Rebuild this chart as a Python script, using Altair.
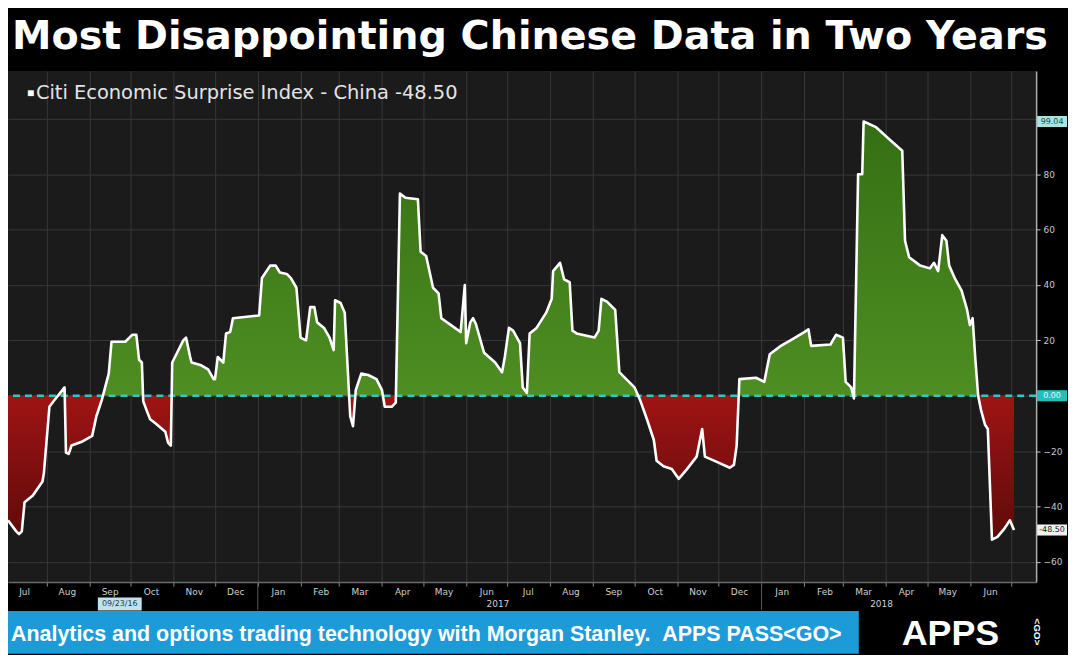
import altair as alt
import pandas as pd

# ---------------- data ----------------
dates = [
    "2016-07-04", "2016-07-10", "2016-07-12", "2016-07-14", "2016-07-16", "2016-07-22", "2016-07-29", "2016-07-30",
    "2016-08-03", "2016-08-06", "2016-08-14", "2016-08-15", "2016-08-17", "2016-08-19", "2016-08-27",
    "2016-09-03", "2016-09-06", "2016-09-10", "2016-09-15", "2016-09-17", "2016-09-27",
    "2016-10-02", "2016-10-05", "2016-10-07", "2016-10-09", "2016-10-10", "2016-10-13", "2016-10-15", "2016-10-19",
    "2016-10-26", "2016-10-28", "2016-10-30", "2016-10-31",
    "2016-11-02", "2016-11-08", "2016-11-10", "2016-11-13", "2016-11-14", "2016-11-21", "2016-11-26", "2016-11-30",
    "2016-12-01", "2016-12-03", "2016-12-07", "2016-12-09", "2016-12-12", "2016-12-14",
    "2017-01-02", "2017-01-04", "2017-01-10", "2017-01-14", "2017-01-17", "2017-01-22", "2017-01-25", "2017-01-29",
    "2017-02-01", "2017-02-05", "2017-02-08", "2017-02-11", "2017-02-13", "2017-02-18", "2017-02-22", "2017-02-25", "2017-02-26",
    "2017-03-02", "2017-03-05", "2017-03-09", "2017-03-11", "2017-03-13", "2017-03-17", "2017-03-22", "2017-03-28",
    "2017-04-01", "2017-04-03", "2017-04-08", "2017-04-11", "2017-04-14", "2017-04-18", "2017-04-27", "2017-04-29",
    "2017-05-03", "2017-05-08", "2017-05-12", "2017-05-14", "2017-05-21", "2017-05-28", "2017-05-31",
    "2017-06-01", "2017-06-04", "2017-06-06", "2017-06-08", "2017-06-14", "2017-06-22", "2017-06-27", "2017-06-29",
    "2017-07-02", "2017-07-05", "2017-07-10", "2017-07-12", "2017-07-15", "2017-07-17", "2017-07-22", "2017-07-29",
    "2017-08-02", "2017-08-03", "2017-08-08", "2017-08-11", "2017-08-15", "2017-08-17", "2017-08-20",
    "2017-09-02", "2017-09-05", "2017-09-07", "2017-09-11", "2017-09-17", "2017-09-20", "2017-09-23",
    "2017-10-01", "2017-10-05", "2017-10-10", "2017-10-15", "2017-10-17", "2017-10-22", "2017-10-28",
    "2017-11-02", "2017-11-08", "2017-11-15", "2017-11-19", "2017-11-21", "2017-11-30",
    "2017-12-09", "2017-12-12", "2017-12-14", "2017-12-16", "2017-12-28",
    "2018-01-03", "2018-01-07", "2018-01-15", "2018-01-22",
    "2018-02-01", "2018-02-04", "2018-02-06", "2018-02-20", "2018-02-24",
    "2018-03-01", "2018-03-03", "2018-03-07", "2018-03-09", "2018-03-12", "2018-03-15", "2018-03-16", "2018-03-25",
    "2018-04-05", "2018-04-13", "2018-04-15", "2018-04-18", "2018-04-26",
    "2018-05-03", "2018-05-06", "2018-05-09", "2018-05-12", "2018-05-15", "2018-05-17", "2018-05-21", "2018-05-26", "2018-05-30",
    "2018-06-01", "2018-06-03", "2018-06-05", "2018-06-07", "2018-06-09", "2018-06-12", "2018-06-14", "2018-06-17",
    "2018-06-21", "2018-06-26", "2018-06-30",
    "2018-07-03",
]
values = [
    -45, -49, -50, -49, -38.5, -36, -31, -28,
    -4, -2, 3, -20.5, -21, -18, -16.5,
    -14.5, -7.5, -1.5, 8, 19.5, 19.5,
    22, 22, 13, 12, -2, -6, -8.5, -10, -13, -17, -18, 12,
    14, 20, 21, 14, 12, 11, 9.5, 6,
    6, 14, 12, 22.5, 23, 28,
    29, 42.5, 47, 47, 44.5, 44, 42.5, 39,
    21, 20, 32, 32, 26.5, 24.5, 21, 16.5, 34.5,
    33.5, 30, -7.5, -11, 2, 8, 7.5, 6,
    2, -4, -4, -2.5, 73, 71.5, 71, 52,
    50.5, 39, 37, 28, 25.5, 23, 40,
    19, 26.5, 28, 26, 15.5, 12, 8.5, 14,
    24.5, 23.5, 19, 3, 1, 22.5, 24.5, 30,
    35, 45, 48, 42, 41, 23.5, 22.5,
    21, 23.5, 35, 34, 31, 8.5, 7,
    3, -1.5, -8.5, -16, -23.5, -25.5, -26.5,
    -30, -26.5, -22, -12, -22, -24,
    -26, -25, -18, 6, 6.5,
    5, 15, 18, 20,
    23, 24, 18, 18.5, 22,
    21, 5, 3, -1, 80, 80, 99.04, 97,
    92, 88.5, 56, 50, 47,
    46, 48, 45, 58, 56, 47, 42.5, 38, 31,
    25.5, 28, 13, 0, -5, -10.5, -12, -52, -51, -48, -45,
    -48.5,
]

month_labels = ["Jul", "Aug", "Sep", "Oct", "Nov", "Dec", "Jan", "Feb", "Mar", "Apr", "May", "Jun",
                "Jul", "Aug", "Sep", "Oct", "Nov", "Dec", "Jan", "Feb", "Mar", "Apr", "May", "Jun"]
month_mid_dates = [d.strftime("%Y-%m-%d") for d in
                   pd.date_range("2016-07-01", periods=24, freq="MS") + pd.Timedelta(days=15)]
year_labels = ["2017", "2018"]
year_label_dates = ["2017-06-24", "2018-03-29"]
year_breaks = ["2017-01-01", "2018-01-01"]
marker_date = ["2016-09-23"]
marker_label = ["09/23/16"]

TITLE = "Most Disappointing Chinese Data in Two Years"
SERIES = "Citi Economic Surprise Index - China"
BANNER = "Analytics and options trading technology with Morgan Stanley.\u00a0\u00a0APPS PASS<GO>"

last = values[-1]
peak = max(values)
low = min(values)

df = pd.DataFrame({"date": dates, "value": values})
months_df = pd.DataFrame({"date": month_mid_dates, "label": month_labels})
years_df = pd.DataFrame({"date": year_label_dates, "label": year_labels})
breaks_df = pd.DataFrame({"date": year_breaks})
marker_df = pd.DataFrame({"date": marker_date, "label": marker_label})
tags_df = pd.DataFrame({
    "v": [peak, 0.0, last],
    "label": [f"{peak:.2f}", "0.00", f"{last:.2f}"],
    "bg": ["#a9e4e0", "#22bfbd", "#f0f0f0"],
    "fg": ["#0d4a4a", "#eaffff", "#111111"],
})
zero_df = pd.DataFrame({"z": [0.0]})
one = pd.DataFrame({"a": [0]})

# ---------------- scales & axes ----------------
W, H = 1032, 513
x_scale = alt.Scale(
    type="utc",
    domain=[alt.DateTime(year=2016, month=7, date=4, utc=True),
            alt.DateTime(year=2018, month=7, date=19, utc=True)],
    nice=False,
)
y_scale = alt.Scale(domain=[-67.3, 117.3], nice=False, zero=False)

x_axis = alt.Axis(
    orient="bottom", title=None, labels=False,
    tickCount={"interval": "month", "step": 1},
    grid=True, gridColor="#383838", gridWidth=1,
    ticks=True, tickColor="#8a8a8a", tickSize=4,
    domainColor="#6a6a6a", domainWidth=1.5,
)
y_axis = alt.Axis(
    orient="right", title=None,
    values=list(range(-60, 111, 10)),
    labelExpr="(datum.value % 20 == 0 && datum.value != 0 && datum.value < 100) ? datum.label : ''",
    labelColor="#c8c8c8", labelFontSize=9, labelFont="DejaVu Sans", labelPadding=3,
    tickColor="#c8c8c8", tickSize=4,
    domainColor="#b0b0b0", domainWidth=1.5,
    grid=True, gridColor="#383838", gridWidth=1,
    gridOpacity={"condition": {"test": "datum.value % 20 === 0", "value": 1}, "value": 0},
)

zfrac = peak / (peak - low)
fill = alt.Gradient(
    gradient="linear",
    stops=[
        alt.GradientStop(color="#356f14", offset=0),
        alt.GradientStop(color="#4e8e22", offset=zfrac),
        alt.GradientStop(color="#a01414", offset=zfrac),
        alt.GradientStop(color="#5e0a0a", offset=1),
    ],
    x1=0, x2=0, y1=0, y2=1,
)

area = alt.Chart(df).mark_area(color=fill, interpolate="linear").encode(
    x=alt.X("date:T", scale=x_scale, axis=x_axis),
    y=alt.Y("value:Q", scale=y_scale, axis=y_axis),
    y2=alt.datum(0),
)
zero_rule = alt.Chart(zero_df).mark_rule(color="#35c6c3", strokeDash=[7, 5], strokeWidth=2.5).encode(
    y="z:Q"
)
line = alt.Chart(df).mark_line(color="#ffffff", strokeWidth=2.6, strokeJoin="round").encode(
    x="date:T", y="value:Q"
)

TAG_SHAPE = "M-1,-0.37L1,-0.37L1,0.37L-1,0.37Z"
tag_box = alt.Chart(tags_df).mark_point(shape=TAG_SHAPE, filled=True, size=900, opacity=1, strokeWidth=0).encode(
    x=alt.value(1048), y="v:Q", color=alt.Color("bg:N", scale=None)
)
tag_text = alt.Chart(tags_df).mark_text(fontSize=8, font="DejaVu Sans", baseline="middle").encode(
    x=alt.value(1048), y="v:Q", text="label:N", color=alt.Color("fg:N", scale=None)
)

month_text = alt.Chart(months_df).mark_text(
    fontSize=9, font="DejaVu Sans", color="#cfcfcf", baseline="middle"
).encode(x="date:T", y=alt.value(523), text="label:N")
year_text = alt.Chart(years_df).mark_text(
    fontSize=9, font="DejaVu Sans", color="#cfcfcf", baseline="middle"
).encode(x="date:T", y=alt.value(535), text="label:N")
year_rules = alt.Chart(breaks_df).mark_rule(color="#5a5a5a", strokeWidth=1).encode(
    x="date:T", y=alt.value(513), y2=alt.value(541)
)
MARK_SHAPE = "M-1,-0.3L1,-0.3L1,0.3L-1,0.3Z"
marker_box = alt.Chart(marker_df).mark_point(
    shape=MARK_SHAPE, filled=True, size=1936, opacity=1, strokeWidth=0, color="#bfe3ee"
).encode(x="date:T", y=alt.value(535))
marker_text = alt.Chart(marker_df).mark_text(
    fontSize=8, font="DejaVu Sans", color="#1a3a4a", baseline="middle"
).encode(x="date:T", y=alt.value(535), text="label:N")

legend_sq = alt.Chart(one).mark_text(
    text="■", fontSize=12, color="#ffffff", align="left", baseline="middle"
).encode(x=alt.value(19), y=alt.value(22))
legend_text = alt.Chart(one).mark_text(
    text=f"{SERIES} {last:.2f}", fontSize=19.5, font="DejaVu Sans", color="#e4e4e4",
    align="left", baseline="middle"
).encode(x=alt.value(28), y=alt.value(22))

title_text = alt.Chart(one).mark_text(
    text=TITLE, fontSize=39.8, font="DejaVu Sans", fontWeight="bold", color="#ffffff",
    align="left", baseline="alphabetic"
).encode(x=alt.value(4), y=alt.value(-22))

banner = alt.Chart(one).mark_rect(color="#1d9bd8").encode(
    x=alt.value(0), x2=alt.value(854), y=alt.value(542), y2=alt.value(585)
)
banner_text = alt.Chart(one).mark_text(
    text=BANNER, fontSize=21.5, font="Liberation Sans", fontWeight="bold", color="#ffffff",
    align="left", baseline="alphabetic"
).encode(x=alt.value(3), y=alt.value(572))
apps_text = alt.Chart(one).mark_text(
    text="APPS", fontSize=36, font="Liberation Sans", fontWeight="bold", color="#ffffff",
    align="left", baseline="alphabetic"
).encode(x=alt.value(897), y=alt.value(576))
go_text = alt.Chart(one).mark_text(
    text="<GO>", fontSize=10, font="Liberation Sans", fontWeight="bold", color="#ffffff",
    angle=90, align="center", baseline="middle"
).encode(x=alt.value(1033), y=alt.value(563))

chart = alt.layer(
    area, zero_rule, line, tag_box, tag_text,
    month_text, year_rules, year_text, marker_box, marker_text,
    legend_sq, legend_text, title_text, banner, banner_text, apps_text, go_text,
).properties(
    width=W, height=H,
    background="#000000",
    padding={"left": 0, "top": 62, "right": 32, "bottom": 72},
    autosize=alt.AutoSizeParams(type="none"),
).configure_view(fill="#1b1b1b", strokeWidth=0)

chart.save("out.html", embed_options={"renderer": "svg", "actions": False})
